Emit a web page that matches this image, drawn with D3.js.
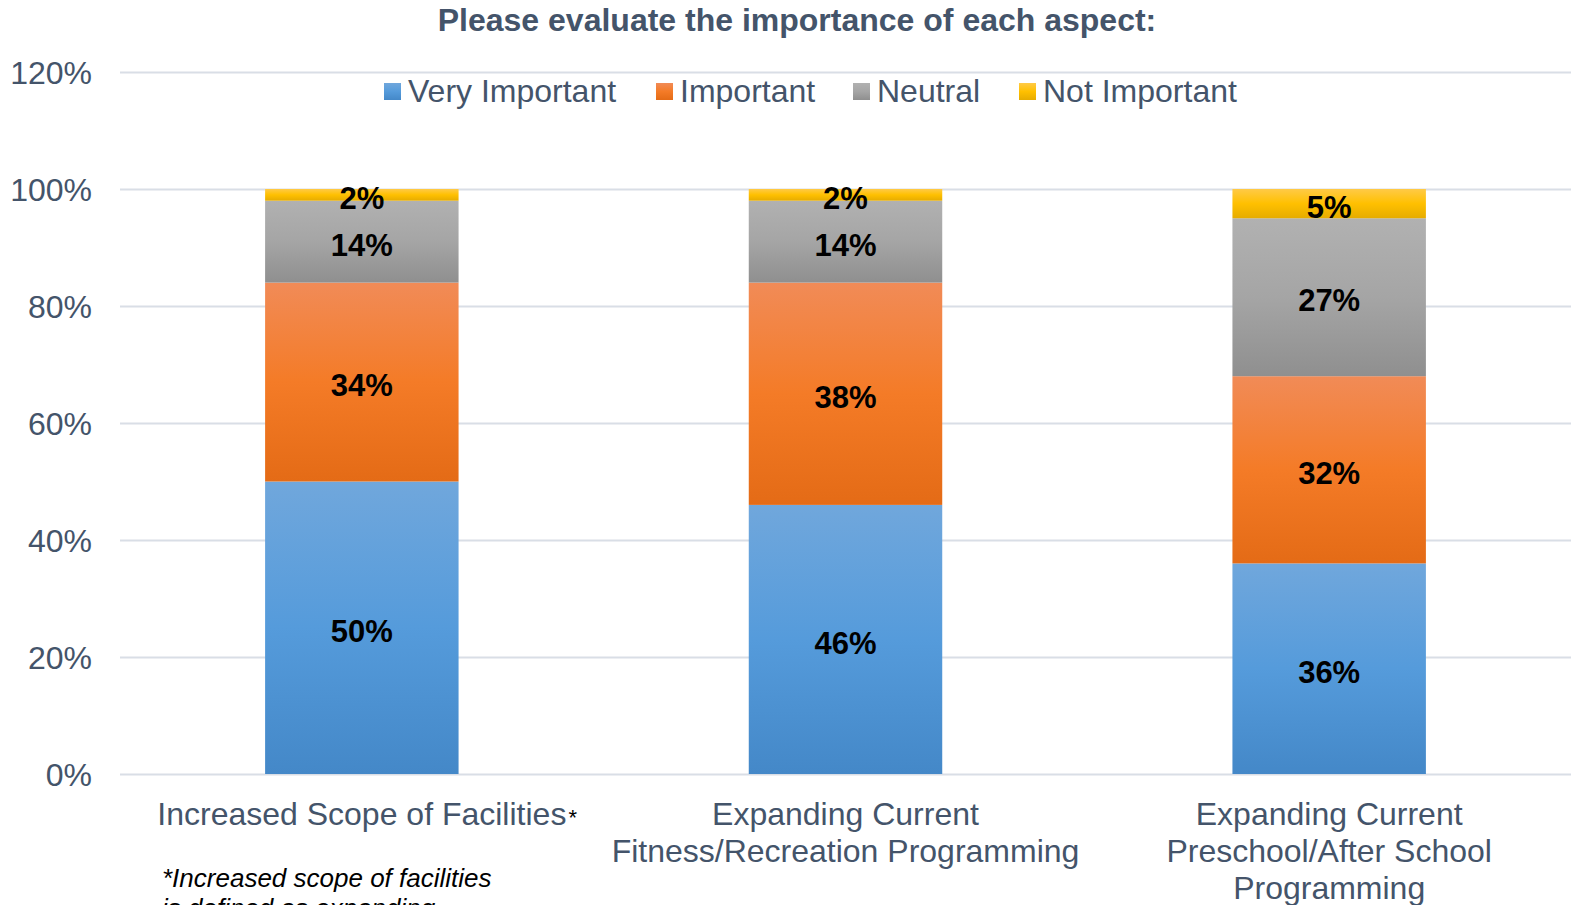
<!DOCTYPE html>
<html>
<head>
<meta charset="utf-8">
<script src="https://cdn.jsdelivr.net/npm/d3@7"></script>
<style>
  html, body { margin: 0; padding: 0; background: #fff; overflow: hidden; }
  svg { display: block; font-family: "Liberation Sans", Arial, sans-serif; }
</style>
</head>
<body>
<svg id="chart" width="1571" height="905"></svg>
<script>
// Survey categories (each entry is the list of wrapped label lines)
const categories = [
  ["Increased Scope of Facilities"],
  ["Expanding Current", "Fitness/Recreation Programming"],
  ["Expanding Current", "Preschool/After School", "Programming"]
];
const seriesNames = ["Very Important", "Important", "Neutral", "Not Important"];
const veryImportant = [50, 46, 36];
const important = [34, 38, 32];
const neutral = [14, 14, 27];
const notImportant = [2, 2, 5];
const yTicks = [0, 20, 40, 60, 80, 100, 120];

// Gradient stops per series: top, middle, bottom
const seriesColors = [
  ["#70a7dc", "#559bdb", "#4488c8"],
  ["#f18b57", "#f47b27", "#e46b16"],
  ["#b1b1b1", "#a5a5a5", "#8f8f8f"],
  ["#ffca47", "#ffc000", "#e6ac00"]
];

const svg = d3.select("#chart");
const textColor = "#44546a";
const W = 1571;
const left = 120;

const x = d3.scaleBand().domain(d3.range(categories.length))
  .range([left, W]).padding(0);
const y = d3.scaleLinear().domain([0, 120]).range([774, 72]);
const barW = x.bandwidth() * 0.4;
const cx = i => x(i) + x.bandwidth() / 2;

// gradients
const defs = svg.append("defs");
seriesColors.forEach((c, i) => {
  const g = defs.append("linearGradient").attr("id", "grad" + i)
    .attr("x1", 0).attr("y1", 0).attr("x2", 0).attr("y2", 1);
  g.append("stop").attr("offset", "0%").attr("stop-color", c[0]);
  g.append("stop").attr("offset", "50%").attr("stop-color", c[1]);
  g.append("stop").attr("offset", "100%").attr("stop-color", c[2]);
});

// title
svg.append("text")
  .attr("x", 797).attr("y", 31)
  .attr("text-anchor", "middle")
  .attr("font-size", 32).attr("font-weight", "bold")
  .attr("fill", textColor)
  .text("Please evaluate the importance of each aspect:");

// gridlines
svg.append("g").selectAll("line").data(yTicks).join("line")
  .attr("x1", left).attr("x2", W)
  .attr("y1", d => Math.round(y(d)) + 0.5).attr("y2", d => Math.round(y(d)) + 0.5)
  .attr("stroke", "#d9dee6").attr("stroke-width", 2);

// y axis labels
const yAxis = d3.axisLeft(y).tickValues(yTicks).tickFormat(d => d + "%").tickSize(0).tickPadding(0);
const yg = svg.append("g").attr("transform", "translate(92,0)").call(yAxis);
yg.select(".domain").remove();
yg.selectAll("text")
  .attr("font-size", 32).attr("fill", textColor)
  .attr("font-family", "'Liberation Sans', Arial, sans-serif")
  .attr("dy", "0.36em");

// stacked data
const rows = categories.map((c, i) => ({
  idx: i,
  "Very Important": veryImportant[i],
  "Important": important[i],
  "Neutral": neutral[i],
  "Not Important": notImportant[i]
}));
const stacked = d3.stack().keys(seriesNames)(rows);

const layers = svg.append("g").selectAll("g").data(stacked).join("g")
  .attr("fill", (d, i) => `url(#grad${i})`);
layers.selectAll("rect").data(d => d).join("rect")
  .attr("x", d => cx(d.data.idx) - barW / 2)
  .attr("width", barW)
  .attr("y", d => y(d[1]))
  .attr("height", d => y(d[0]) - y(d[1]));

// value labels
const labelG = svg.append("g");
stacked.forEach(layer => {
  layer.forEach(d => {
    const v = d[1] - d[0];
    labelG.append("text")
      .attr("x", cx(d.data.idx))
      .attr("y", (y(d[0]) + y(d[1])) / 2 + 3)
      .attr("dy", "0.36em")
      .attr("text-anchor", "middle")
      .attr("font-size", 31).attr("font-weight", "bold")
      .attr("fill", "#000")
      .text(v + "%");
  });
});

// category labels
categories.forEach((lines, i) => {
  lines.forEach((ln, j) => {
    const t = svg.append("text")
      .attr("text-anchor", "middle")
      .attr("font-size", 32).attr("fill", textColor)
      .attr("x", cx(i))
      .attr("y", 825 + j * 37)
      .text(ln);
    if (i === 0 && j === 0) {
      const w = t.node().getComputedTextLength();
      svg.append("text")
        .attr("x", cx(i) + w / 2 + 2).attr("y", 825)
        .attr("font-size", 22).attr("fill", "#000").text("*");
    }
  });
});

// footnote
const fn = svg.append("text").attr("font-size", 26).attr("font-style", "italic").attr("fill", "#000");
fn.append("tspan").attr("x", 162).attr("y", 887).text("*Increased scope of facilities");
fn.append("tspan").attr("x", 162).attr("y", 917).text("is defined as expanding");

// legend
const legendX = [384, 656, 853, 1019];
const lg = svg.append("g");
seriesNames.forEach((name, i) => {
  lg.append("rect").attr("x", legendX[i]).attr("y", 83).attr("width", 17).attr("height", 17)
    .attr("fill", `url(#grad${i})`);
  lg.append("text").attr("x", legendX[i] + 24).attr("y", 102)
    .attr("font-size", 32).attr("fill", textColor).text(name);
});
</script>
</body>
</html>
